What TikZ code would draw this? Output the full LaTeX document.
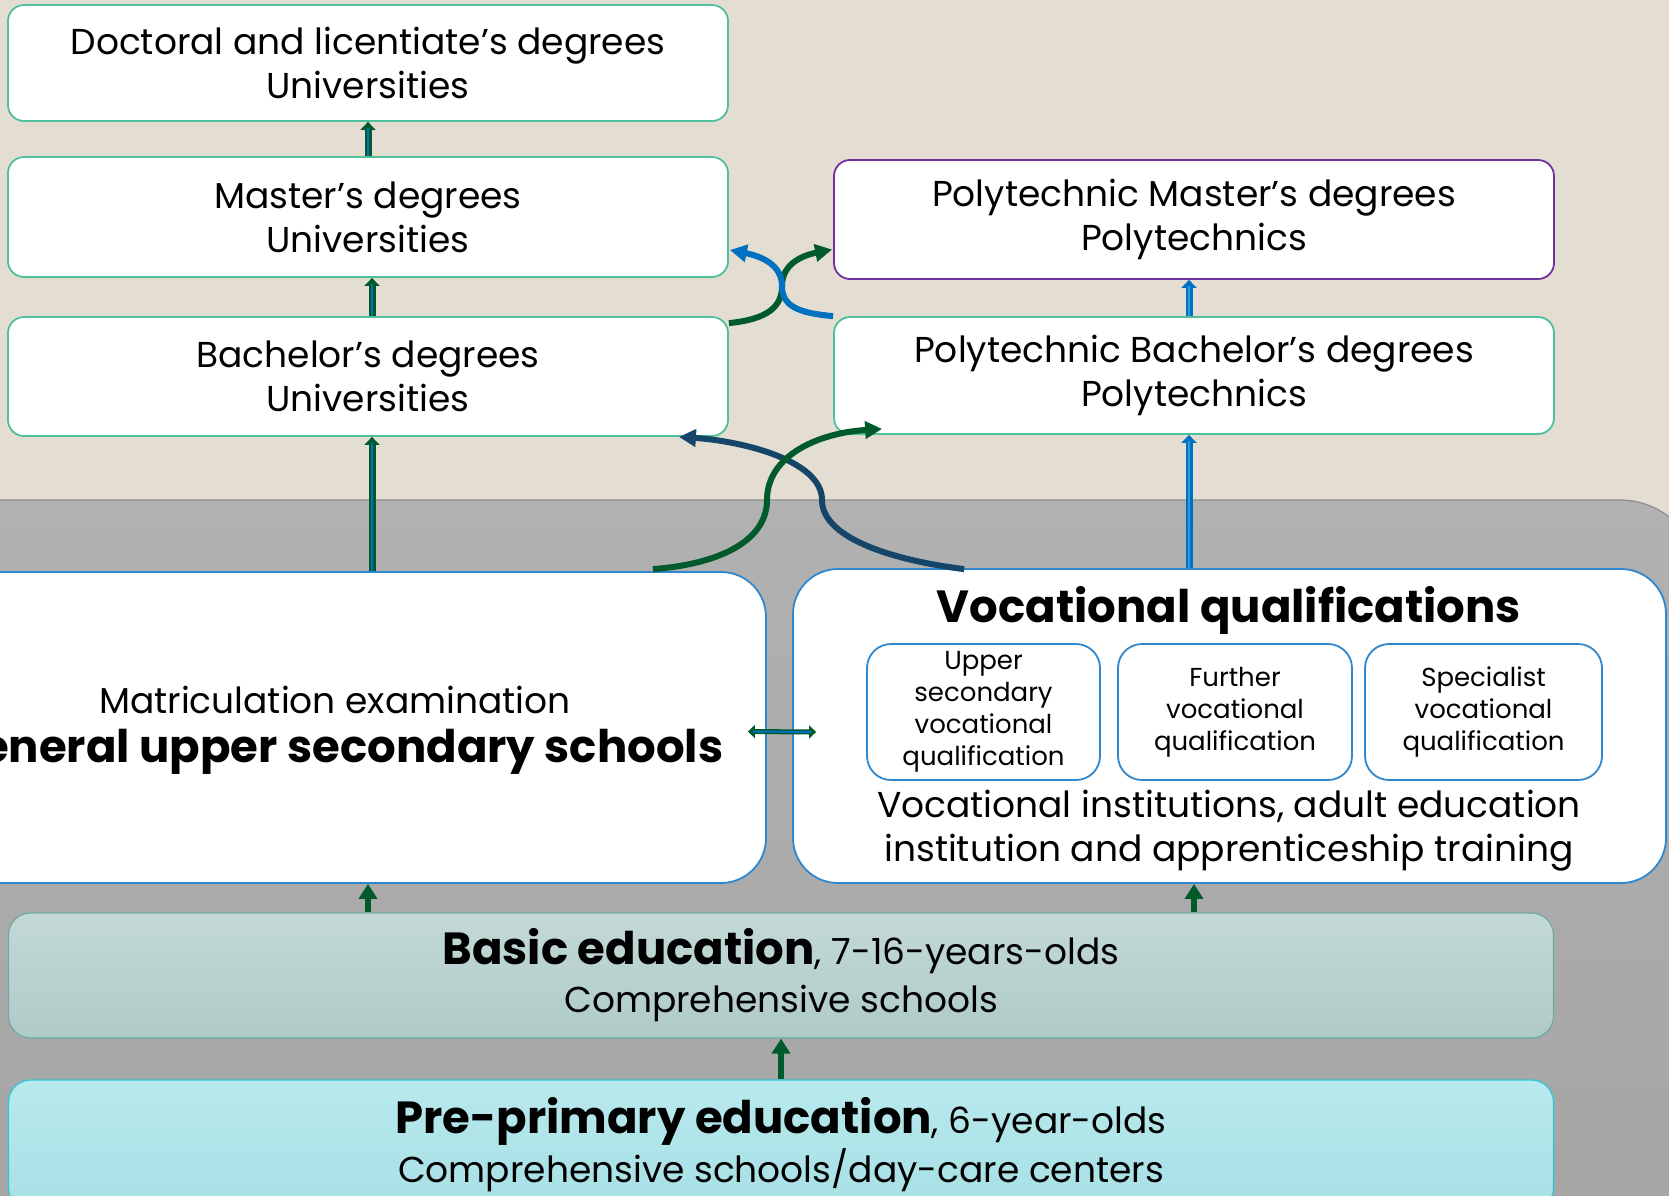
\documentclass[tikz,border=0pt]{standalone}
\usepackage{fontspec}
\setmainfont{Poppins}
\usepackage{tikz}
\usetikzlibrary{calc,arrows.meta}

\definecolor{paper}{HTML}{E3DDD2}
\definecolor{grayTop}{HTML}{B1B1B1}
\definecolor{grayBot}{HTML}{A4A4A4}
\definecolor{grayEdge}{HTML}{8E8E8E}
\definecolor{uniLine}{HTML}{4FC09B}
\definecolor{polyLine}{HTML}{7030A0}
\definecolor{secLine}{HTML}{2E87CF}
\definecolor{arrGreen}{HTML}{005A2A}
\definecolor{arrBlue}{HTML}{0070C0}
\definecolor{arrLight}{HTML}{2A9BE0}
\definecolor{arrNavy}{HTML}{15466A}
\definecolor{basicTop}{HTML}{C3D9D7}
\definecolor{basicBot}{HTML}{AFCBC7}
\definecolor{basicLine}{HTML}{6FA9A3}
\definecolor{preTop}{HTML}{B8E9ED}
\definecolor{preBot}{HTML}{A6E0E5}
\definecolor{preLine}{HTML}{2BC7D6}

\newcommand{\mainfs}{\fontsize{36}{44}\selectfont}
\newcommand{\bigfs}{\fontsize{45}{52}\selectfont}
\newcommand{\qualfs}{\fontsize{26}{32}\selectfont}

\begin{document}
\begin{tikzpicture}[x=1pt,y=-1pt,
  unibox/.style={draw=uniLine,line width=1.8pt,fill=white,rounded corners=16pt,
    minimum width=720pt,align=center,font=\mainfs},
  secbox/.style={draw=secLine,line width=1.8pt,fill=white,rounded corners=45pt},
  qualbox/.style={draw=secLine,line width=1.8pt,fill=white,rounded corners=24pt,
    minimum height=136pt,align=center,font=\qualfs},
  bandbox/.style={line width=1.2pt,rounded corners=22pt,minimum width=1545pt,
    align=center,font=\mainfs},
  dblout/.style={draw=arrGreen,line width=7pt,-{Triangle[length=8pt,width=15pt]}},
  dblin/.style={draw=arrBlue,line width=2.5pt,shorten >=6pt},
  polyout/.style={draw=arrBlue,line width=7pt,-{Triangle[length=8pt,width=15pt]}},
  polyin/.style={draw=arrLight,line width=2.5pt,shorten >=6pt},
  uparr/.style={draw=arrGreen,line width=6pt,-{Triangle[length=15pt,width=18pt]}},
  crossarr/.style={line width=6pt,-{Triangle[length=17pt,width=17pt]}}]
  \useasboundingbox (0,0) rectangle (1669,1195);
  \clip (0,0) rectangle (1669,1195);

  %% Background: paper and the grey band of upper secondary education
  \fill[paper] (0,0) rectangle (1669,1195);
  \shade[top color=grayTop,bottom color=grayBot,draw=grayEdge,line width=1.2pt,
    rounded corners=80pt] (-100,500) rectangle (1700,1300);

  %% Higher education boxes
  \node[unibox,minimum height=116pt] (DOC) at (368,63)
    {Doctoral and licentiate’s degrees\\Universities};
  \node[unibox,minimum height=120pt] (MAS) at (368,217)
    {Master’s degrees\\Universities};
  \node[unibox,minimum height=119pt] (BAC) at (368,376.5)
    {Bachelor’s degrees\\Universities};
  \node[unibox,draw=polyLine,minimum height=119pt] (PMAS) at (1194,219.5)
    {Polytechnic Master’s degrees\\Polytechnics};
  \node[unibox,minimum height=117pt] (PBAC) at (1194,375.5)
    {Polytechnic Bachelor’s degrees\\Polytechnics};

  %% Upper secondary boxes
  \node[secbox,minimum width=862pt,minimum height=311pt] (GUS) at (335,727.5) {};
  \node[font=\mainfs] (MATR) at (335,700) {Matriculation examination};
  \node[font=\bigfs] (GENS) at (335,752) {\textbf{General upper secondary schools}};

  \node[secbox,minimum width=873pt,minimum height=314pt] (VOC) at (1229.5,726) {};
  \node[font=\bigfs] (VOCT) at (1229,610) {\textbf{Vocational qualifications}};
  \node[font=\mainfs,align=center] (VOCI) at (1229,831)
    {Vocational institutions, adult education\\institution and apprenticeship training};
  \foreach \n/\x/\w/\t in {1/983.5/233/{Upper\\secondary\\vocational\\qualification},
                           2/1235/234/{Further\\vocational\\qualification},
                           3/1483.5/237/{Specialist\\vocational\\qualification}}
  {
    \node[qualbox,minimum width=\w pt] (VQ\n) at (\x,712) {\t};
  }

  %% Basic and pre-primary education
  \node[bandbox,draw=basicLine,top color=basicTop,bottom color=basicBot,
    minimum height=125pt] (BASIC) at (781,975.5)
    {{\bigfs\textbf{Basic education}}, 7-16-years-olds\\[4pt]Comprehensive schools};
  \node[bandbox,draw=preLine,top color=preTop,bottom color=preBot,
    minimum height=130pt] (PRE) at (781,1145)
    {{\bigfs\textbf{Pre-primary education}}, 6-year-olds\\[2pt]Comprehensive schools/day-care centers};

  %% Straight arrows
  \coordinate (ucol) at (372,0);
  \coordinate (pcol) at (1189,0);
  \draw[dblout] (MAS.north) -- (DOC.south);
  \draw[dblin]  (MAS.north) -- (DOC.south);
  \foreach \a/\b in {BAC/MAS,GUS/BAC}
  {
    \draw[dblout] (ucol |- \a.north) -- (ucol |- \b.south);
    \draw[dblin]  (ucol |- \a.north) -- (ucol |- \b.south);
  }
  \foreach \a/\b in {PBAC/PMAS,VOC/PBAC}
  {
    \draw[polyout] (pcol |- \a.north) -- (pcol |- \b.south);
    \draw[polyin]  (pcol |- \a.north) -- (pcol |- \b.south);
  }
  \draw[dblout,{Triangle[length=7pt,width=13pt]}-{Triangle[length=7pt,width=13pt]},line width=5pt]
    ($(GUS.east)+(-19,4)$) -- ($(VOC.west)+(24,6)$);
  \draw[draw=arrBlue,line width=2pt,shorten <=5pt,shorten >=5pt]
    ($(GUS.east)+(-19,4)$) -- ($(VOC.west)+(24,6)$);
  \draw[uparr] (DOC.south |- BASIC.north) -- (DOC.south |- GUS.south);
  \draw[uparr] (PMAS.south |- BASIC.north) -- (PMAS.south |- VOC.south);
  \draw[uparr] (PRE.north) -- (BASIC.south);

  %% Crossing arrows between the two sectors
  \coordinate (X1) at (782,286);
  \draw[crossarr,arrGreen] ($(BAC.north east)+(0,7)$) .. controls +(40,-4) and +(0,20) .. (X1)
    .. controls +(0,-22) and +(-30,6) .. ($(PMAS.west)+(-1,30)$);
  \draw[crossarr,arrBlue] (PBAC.north west) .. controls +(-35,-3) and +(0,20) .. (X1)
    .. controls +(0,-22) and +(30,6) .. ($(MAS.east)+(1,33)$);
  \coordinate (X2) at (767,500);
  \coordinate (X3) at (822,500);
  \draw[crossarr,arrNavy] ($(VOC.north west)+(172,1)$) .. controls +(-65,-8) and +(0,40) .. (X3)
    .. controls +(0,-40) and +(62,4) .. ($(BAC.south east)+(-50,0)$);
  \draw[crossarr,arrGreen] ($(GUS.north east)+(-114,-2)$) .. controls +(68,-5) and +(0,40) .. (X2)
    .. controls +(0,-45) and +(-63,4) .. ($(PBAC.south west)+(49,-6)$);
\end{tikzpicture}
\end{document}
